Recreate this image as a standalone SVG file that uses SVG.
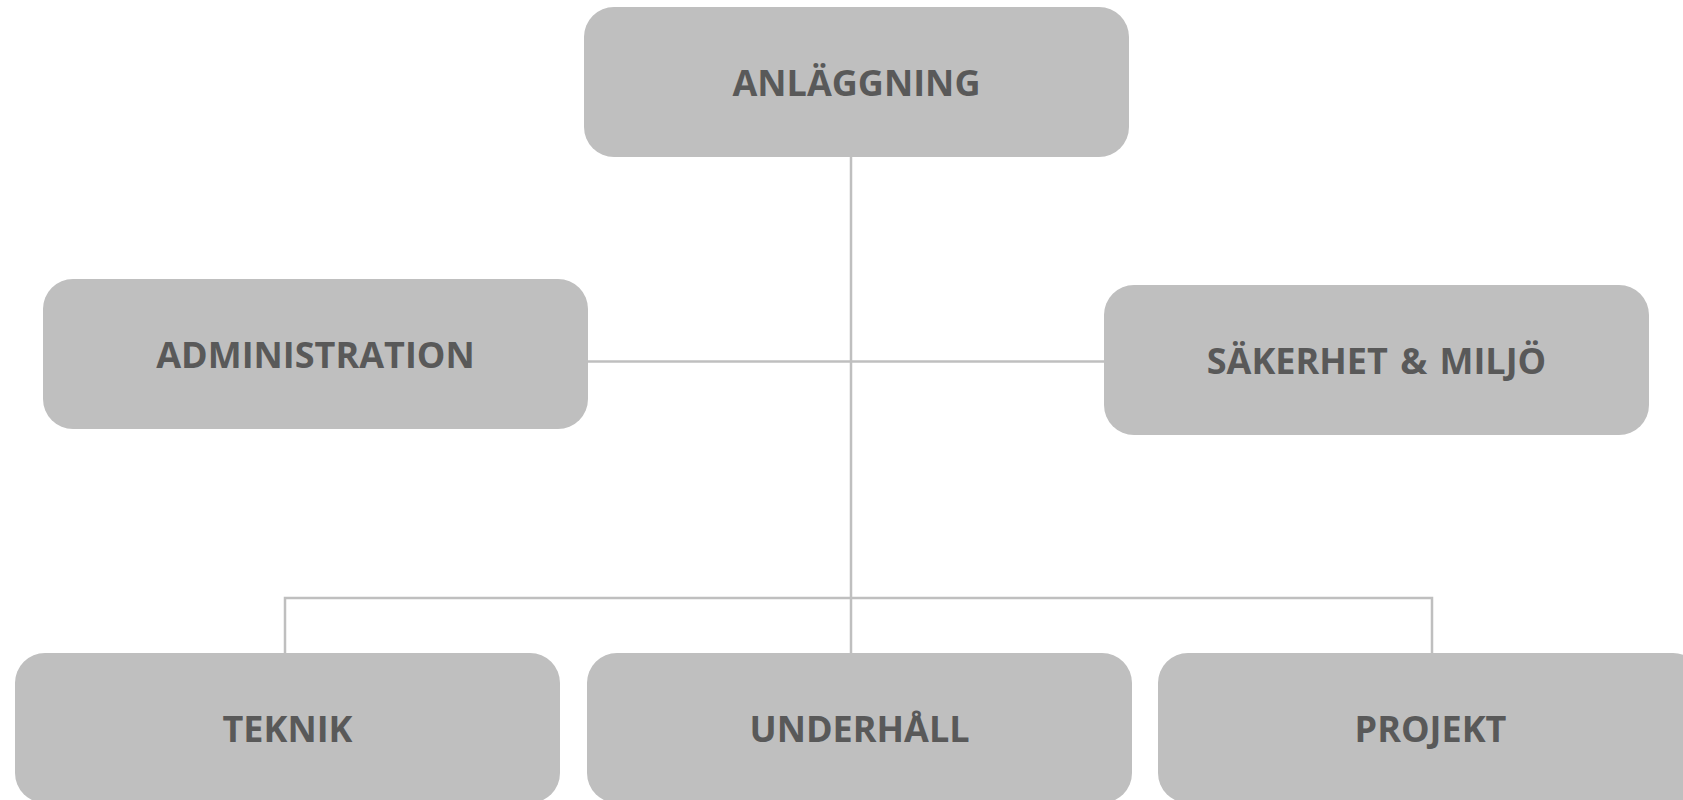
<svg xmlns="http://www.w3.org/2000/svg" width="1683" height="800" viewBox="0 0 1683 800">
<style>
.box{fill:#BFBFBF}
.lbl{font-family:"Open Sans","Liberation Sans",sans-serif;font-weight:bold;font-size:36px;fill:#595959;text-anchor:middle}
.conn{fill:none;stroke:#BFBFBF;stroke-width:2.5}
</style>
<rect width="1683" height="800" fill="#FFFFFF"/>
<g id="connectors">
<line class="conn" x1="851" y1="157" x2="851" y2="653"/>
<line class="conn" x1="588" y1="361.5" x2="1104" y2="361.5"/>
<polyline class="conn" points="285,653 285,598 1432,598 1432,653"/>
</g>
<g id="node-anlaggning">
<rect class="box" x="584" y="7" width="545" height="150" rx="30"/>
<text class="lbl" x="856.5" y="96">ANLÄGGNING</text>
</g>
<g id="node-administration">
<rect class="box" x="43" y="279" width="545" height="150" rx="30"/>
<text class="lbl" x="315.5" y="367.5">ADMINISTRATION</text>
</g>
<g id="node-sakerhet">
<rect class="box" x="1104" y="285" width="545" height="150" rx="30"/>
<text class="lbl" x="1376.5" y="373.5" word-spacing="3">SÄKERHET &amp; MILJÖ</text>
</g>
<g id="node-teknik">
<rect class="box" x="15" y="653" width="545" height="150" rx="30"/>
<text class="lbl" x="287.5" y="741.5">TEKNIK</text>
</g>
<g id="node-underhall">
<rect class="box" x="587" y="653" width="545" height="150" rx="30"/>
<text class="lbl" x="859.5" y="741.5">UNDERHÅLL</text>
</g>
<g id="node-projekt">
<rect class="box" x="1158" y="653" width="545" height="150" rx="30"/>
<text class="lbl" x="1430.5" y="741.5">PROJEKT</text>
</g>
</svg>
